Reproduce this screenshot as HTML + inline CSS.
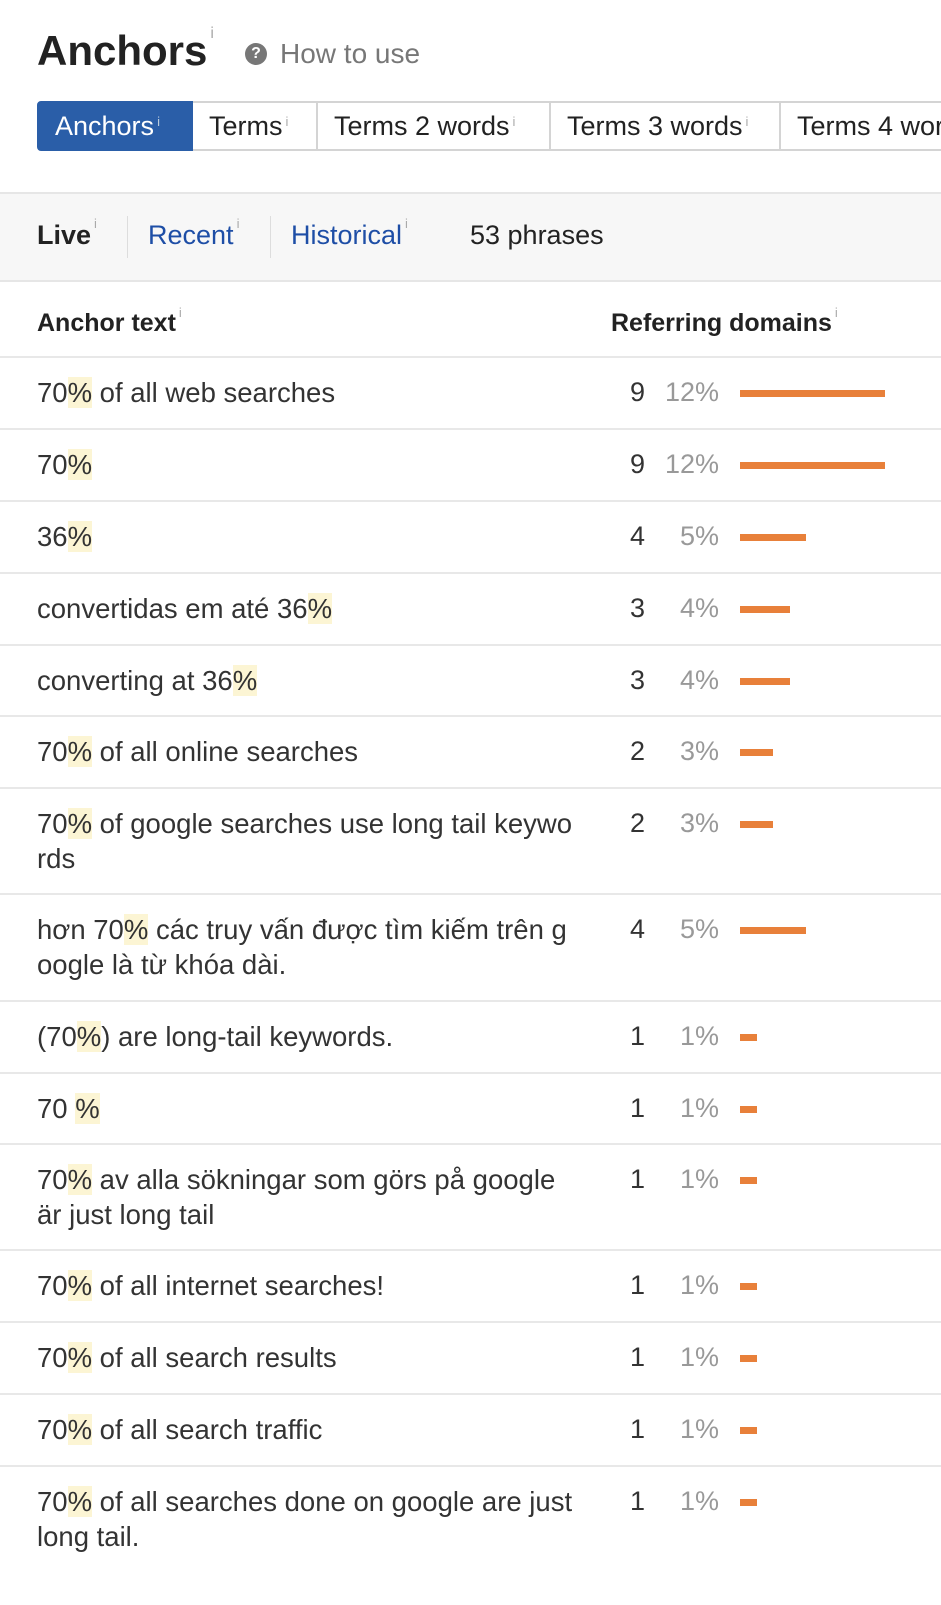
<!DOCTYPE html>
<html><head><meta charset="utf-8">
<style>
*{margin:0;padding:0;box-sizing:border-box}
body{width:941px;height:1600px;overflow:hidden;background:#fff;font-family:"Liberation Sans","Noto Sans CJK SC",sans-serif;color:#333;position:relative}
.a{position:absolute;white-space:nowrap}
sup{font-size:13px;color:#aaa;vertical-align:top;position:relative;top:-4px;margin-left:3px;font-weight:normal}
.tab{position:absolute;top:101px;height:50px;border:2px solid #d4d4d4;border-left:none;font-size:27px;line-height:46px;padding-left:16px;color:#222;white-space:nowrap;overflow:hidden}
.hl{background:#fcf5d4}
.row{position:absolute;left:0;width:941px;border-top:2px solid #e8e8e8}
.t{position:absolute;left:37px;top:17px;font-size:27.5px;line-height:35px;white-space:nowrap;color:#333}
.n{position:absolute;right:296px;top:17px;font-size:27px;line-height:35px}
.p{position:absolute;right:222px;top:17px;font-size:27px;line-height:35px;color:#999}
.b{position:absolute;left:740px;top:32px;height:7px;background:#e8803a}
</style></head><body>
<div class="a" style="left:37px;top:27px;font-size:42px;font-weight:bold;color:#222">Anchors<sup style="font-size:16px;top:-2px">i</sup></div>
<div class="a" style="left:245px;top:43px;width:22px;height:22px;border-radius:50%;background:#777;color:#fff;font-size:16px;font-weight:bold;text-align:center;line-height:22px">?</div>
<div class="a" style="left:280px;top:38px;font-size:28px;color:#777">How to use</div>

<div class="tab" style="left:37px;width:156px;background:#2a5ea8;border:2px solid #2a5ea8;border-radius:4px 0 0 4px;color:#fff">Anchors<sup style="color:#bcd">i</sup></div>
<div class="tab" style="left:193px;width:125px">Terms<sup>i</sup></div>
<div class="tab" style="left:318px;width:233px">Terms 2 words<sup>i</sup></div>
<div class="tab" style="left:551px;width:230px">Terms 3 words<sup>i</sup></div>
<div class="tab" style="left:781px;width:200px">Terms 4 words</div>

<div class="a" style="left:0;top:192px;width:941px;height:90px;background:#f7f7f7;border-top:2px solid #e6e6e6;border-bottom:2px solid #e6e6e6"></div>
<div class="a" style="left:37px;top:220px;font-size:27px;font-weight:bold;color:#222">Live<sup>i</sup></div>
<div class="a" style="left:127px;top:216px;width:1px;height:42px;background:#ddd"></div>
<div class="a" style="left:148px;top:220px;font-size:27px;color:#1e4ea6">Recent<sup>i</sup></div>
<div class="a" style="left:270px;top:216px;width:1px;height:42px;background:#ddd"></div>
<div class="a" style="left:291px;top:220px;font-size:27px;color:#1e4ea6">Historical<sup>i</sup></div>
<div class="a" style="left:470px;top:220px;font-size:27px;color:#222">53 phrases</div>

<div class="a" style="left:37px;top:309px;font-size:25px;font-weight:bold;color:#222">Anchor text<sup>i</sup></div>
<div class="a" style="left:611px;top:309px;font-size:25px;font-weight:bold;color:#222">Referring domains<sup>i</sup></div>

<div class="row" style="top:356px;height:73px"><div class="t">70<span class="hl">%</span> of all web searches</div><div class="n">9</div><div class="p">12%</div><div class="b" style="width:145px"></div></div>
<div class="row" style="top:428px;height:73px"><div class="t">70<span class="hl">%</span></div><div class="n">9</div><div class="p">12%</div><div class="b" style="width:145px"></div></div>
<div class="row" style="top:500px;height:73px"><div class="t">36<span class="hl">%</span></div><div class="n">4</div><div class="p">5%</div><div class="b" style="width:66px"></div></div>
<div class="row" style="top:572px;height:73px"><div class="t">convertidas em até 36<span class="hl">%</span></div><div class="n">3</div><div class="p">4%</div><div class="b" style="width:50px"></div></div>
<div class="row" style="top:644px;height:73px"><div class="t">converting at 36<span class="hl">%</span></div><div class="n">3</div><div class="p">4%</div><div class="b" style="width:50px"></div></div>
<div class="row" style="top:715px;height:73px"><div class="t">70<span class="hl">%</span> of all online searches</div><div class="n">2</div><div class="p">3%</div><div class="b" style="width:33px"></div></div>
<div class="row" style="top:787px;height:107px"><div class="t">70<span class="hl">%</span> of google searches use long tail keywo<br>rds</div><div class="n">2</div><div class="p">3%</div><div class="b" style="width:33px"></div></div>
<div class="row" style="top:893px;height:108px"><div class="t">hơn 70<span class="hl">%</span> các truy vấn được tìm kiếm trên g<br>oogle là từ khóa dài.</div><div class="n">4</div><div class="p">5%</div><div class="b" style="width:66px"></div></div>
<div class="row" style="top:1000px;height:73px"><div class="t">(70<span class="hl">%</span>) are long-tail keywords.</div><div class="n">1</div><div class="p">1%</div><div class="b" style="width:17px"></div></div>
<div class="row" style="top:1072px;height:73px"><div class="t">70 <span class="hl">%</span></div><div class="n">1</div><div class="p">1%</div><div class="b" style="width:17px"></div></div>
<div class="row" style="top:1143px;height:107px"><div class="t">70<span class="hl">%</span> av alla sökningar som görs på google<br>är just long tail</div><div class="n">1</div><div class="p">1%</div><div class="b" style="width:17px"></div></div>
<div class="row" style="top:1249px;height:73px"><div class="t">70<span class="hl">%</span> of all internet searches!</div><div class="n">1</div><div class="p">1%</div><div class="b" style="width:17px"></div></div>
<div class="row" style="top:1321px;height:73px"><div class="t">70<span class="hl">%</span> of all search results</div><div class="n">1</div><div class="p">1%</div><div class="b" style="width:17px"></div></div>
<div class="row" style="top:1393px;height:73px"><div class="t">70<span class="hl">%</span> of all search traffic</div><div class="n">1</div><div class="p">1%</div><div class="b" style="width:17px"></div></div>
<div class="row" style="top:1465px;height:140px"><div class="t">70<span class="hl">%</span> of all searches done on google are just<br>long tail.</div><div class="n">1</div><div class="p">1%</div><div class="b" style="width:17px"></div></div>
</body></html>
